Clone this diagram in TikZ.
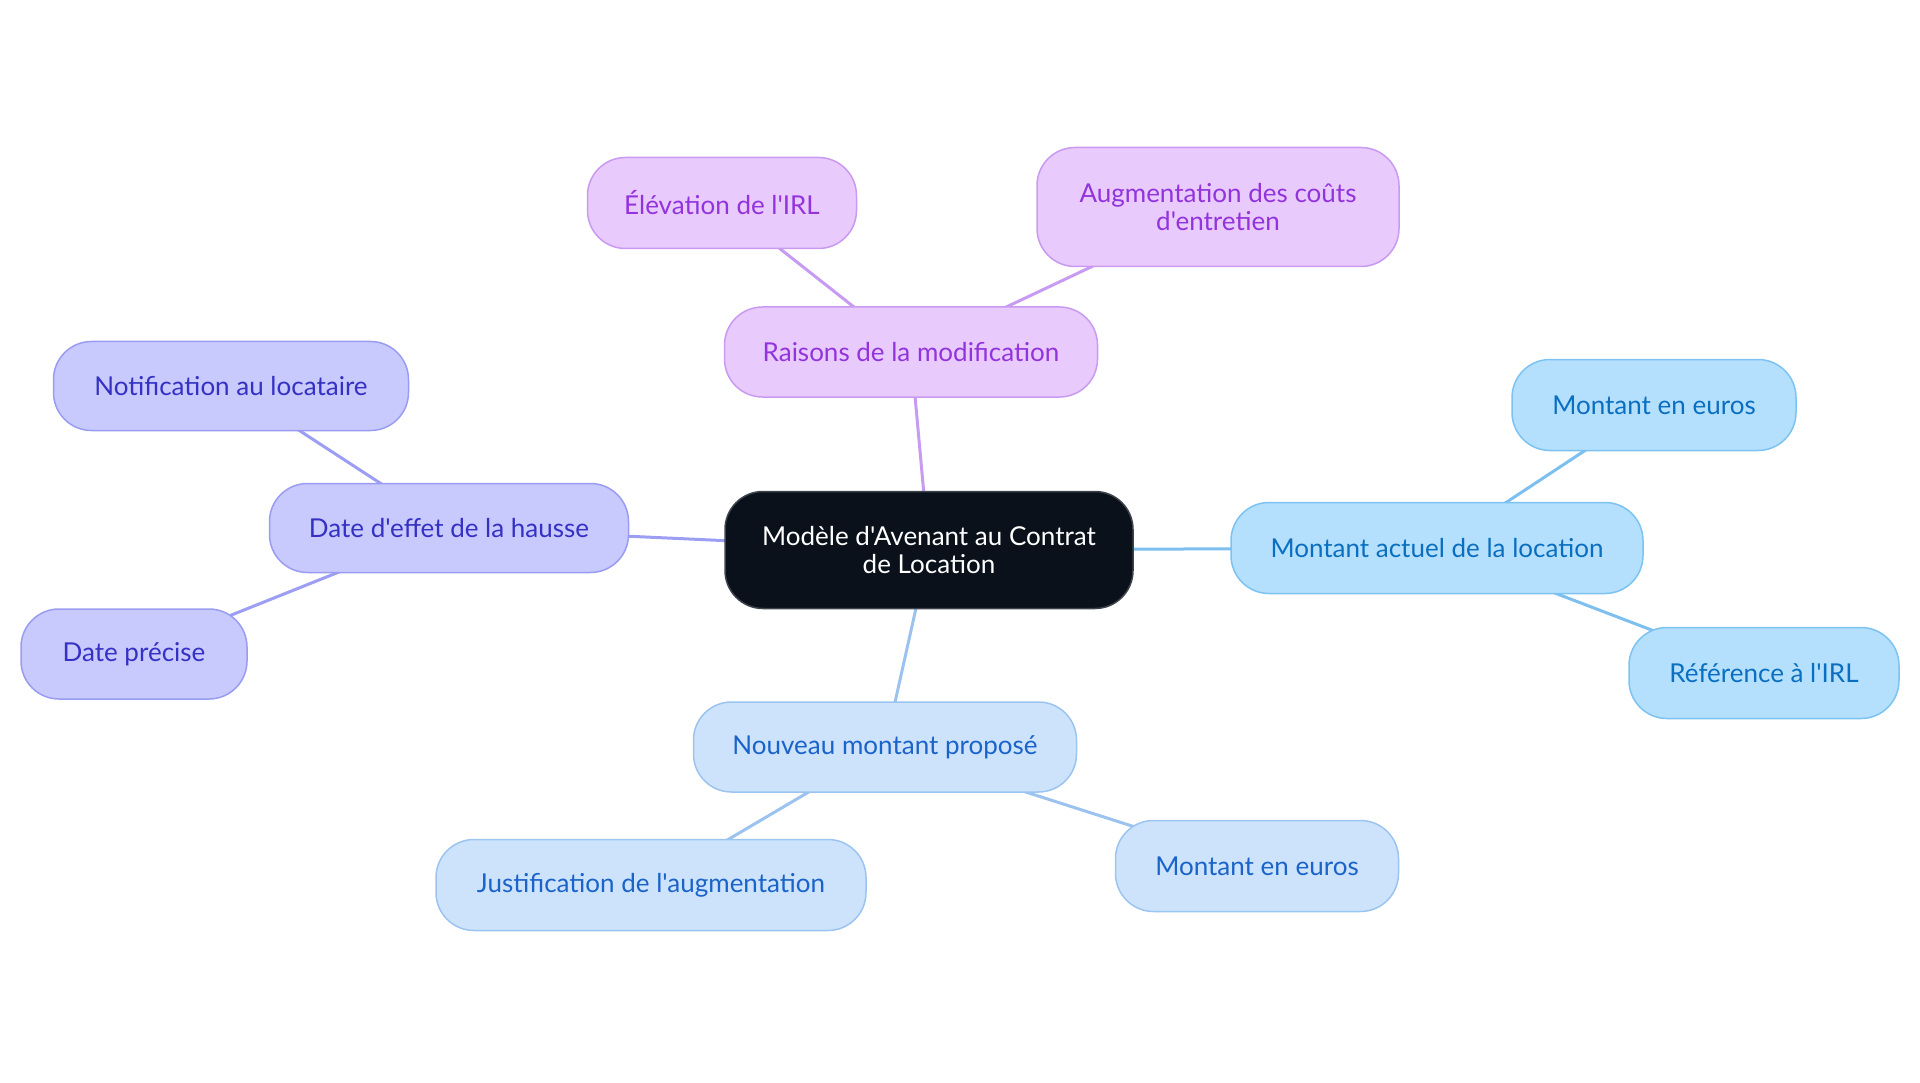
\documentclass[tikz,border=0pt]{standalone}
\usepackage{fontspec}
\newfontfamily\lato{Lato}
\usetikzlibrary{backgrounds}
\definecolor{ctrfill}{HTML}{0B111B}
\definecolor{ctrdraw}{HTML}{3F444C}
\definecolor{purfill}{HTML}{E8CAFD}
\definecolor{purdraw}{HTML}{C99AF0}
\definecolor{purtext}{HTML}{9233DB}
\definecolor{purline}{HTML}{C79BF2}
\definecolor{indfill}{HTML}{C8C9FC}
\definecolor{inddraw}{HTML}{9A9CF2}
\definecolor{indtext}{HTML}{3431C4}
\definecolor{indline}{HTML}{9C9EF3}
\definecolor{skyfill}{HTML}{B4E0FD}
\definecolor{skydraw}{HTML}{7DC3F2}
\definecolor{skytext}{HTML}{0A6FC0}
\definecolor{skyline}{HTML}{7DC0F0}
\definecolor{palfill}{HTML}{CDE3FB}
\definecolor{paldraw}{HTML}{9CC4F0}
\definecolor{paltext}{HTML}{1A63C9}
\definecolor{palline}{HTML}{9CC3EF}
\begin{document}
\begin{tikzpicture}[x=1pt,y=-1pt,
  box/.style={rounded corners=38pt, line width=1.5pt, align=center, inner sep=0pt,
    font=\lato\fontsize{26}{28}\selectfont},
  ctrbox/.style={box, fill=ctrfill, draw=ctrdraw, text=white},
  purbox/.style={box, fill=purfill, draw=purdraw, text=purtext},
  indbox/.style={box, fill=indfill, draw=inddraw, text=indtext},
  skybox/.style={box, fill=skyfill, draw=skydraw, text=skytext},
  palbox/.style={box, fill=palfill, draw=paldraw, text=paltext},
  link/.style={line width=3pt},
  sz/.style 2 args={minimum width=#1pt, minimum height=#2pt}]
\useasboundingbox (0,0) rectangle (1920,1083);
\node[ctrbox, sz={408}{117}] (ctr) at (929,550) {Modèle d'Avenant au Contrat\\de Location};
\node[purbox, sz={373}{90}] (rai) at (911,352) {Raisons de la modification};
\node[purbox, sz={269}{91}] (ele) at (722,203) {Élévation de l'IRL};
\node[purbox, sz={362}{119}] (aug) at (1218,207) {Augmentation des coûts\\d'entretien};
\node[indbox, sz={359}{89}] (dat) at (449,528) {Date d'effet de la hausse};
\node[indbox, sz={355}{89}] (not) at (231,386) {Notification au locataire};
\node[indbox, sz={226}{90}] (pre) at (134,654) {Date précise};
\node[skybox, sz={412}{91}] (act) at (1437,548) {Montant actuel de la location};
\node[skybox, sz={284}{91}] (eur1) at (1654,405) {Montant en euros};
\node[skybox, sz={270}{91}] (ref) at (1764,673) {Référence à l'IRL};
\node[palbox, sz={383}{90}] (nou) at (885,747) {Nouveau montant proposé};
\node[palbox, sz={430}{91}] (jus) at (651,885) {Justification de l'augmentation};
\node[palbox, sz={283}{91}] (eur2) at (1257,866) {Montant en euros};
\begin{scope}[on background layer]
\draw[link, draw=purline] (ctr.center) -- (rai.center);
\draw[link, draw=purline] (rai.center) -- (ele.center);
\draw[link, draw=purline] (rai.center) -- (aug.center);
\draw[link, draw=indline] (ctr.center) -- (dat.center);
\draw[link, draw=indline] (dat.center) -- (not.center);
\draw[link, draw=indline] (dat.center) -- (pre.center);
\draw[link, draw=skyline] (ctr.center) -- (act.center);
\draw[link, draw=skyline] (act.center) -- (eur1.center);
\draw[link, draw=skyline] (act.center) -- (ref.center);
\draw[link, draw=palline] (ctr.center) -- (nou.center);
\draw[link, draw=palline] (nou.center) -- (jus.center);
\draw[link, draw=palline] (nou.center) -- (eur2.center);
\end{scope}
\end{tikzpicture}
\end{document}
